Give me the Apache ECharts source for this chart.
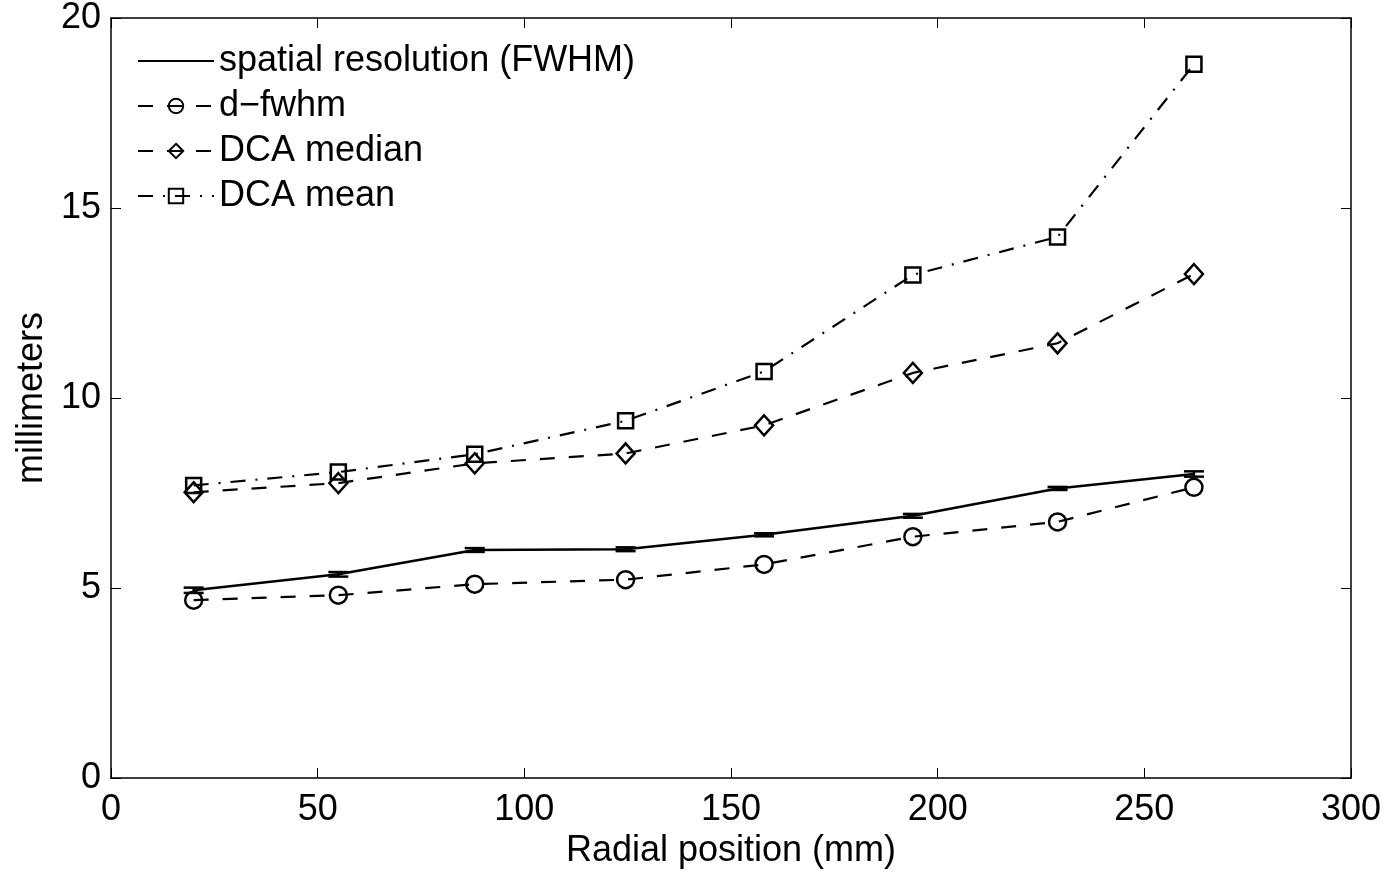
<!DOCTYPE html>
<html>
<head>
<meta charset="utf-8">
<script src="https://cdn.jsdelivr.net/npm/echarts@6/dist/echarts.min.js"></script>
<style>
  html, body { margin: 0; padding: 0; background: #fff; }
  #chart { width: 1389px; height: 878px; }
</style>
</head>
<body>
<div id="chart"></div>
<script>
// radial positions (mm)
const radialPos = [20, 55, 88, 124.5, 158, 194, 229, 262];
// series values (mm)
const fwhm = [4.94, 5.36, 6.0, 6.02, 6.4, 6.9, 7.62, 8.0];
const fwhmErr = [0.07, 0.06, 0.05, 0.05, 0.04, 0.05, 0.04, 0.07];
const dFwhm = [4.68, 4.81, 5.1, 5.22, 5.62, 6.35, 6.74, 7.65];
const dcaMedian = [7.52, 7.76, 8.28, 8.54, 9.28, 10.66, 11.44, 13.26];
const dcaMean = [7.7, 8.05, 8.52, 9.4, 10.7, 13.24, 14.24, 18.78];

const xTicks = [0, 50, 100, 150, 200, 250, 300];
const yTicks = [0, 5, 10, 15, 20];

const FONT = '"Liberation Sans", Arial, Helvetica, sans-serif';
const hollow = { color: 'rgba(0,0,0,0)', borderColor: '#000', borderWidth: 2.5 };

function pairs(ys) {
  return radialPos.map((x, i) => [x, ys[i]]);
}

const chart = echarts.init(document.getElementById('chart'));

const axisCommon = {
  type: 'value',
  axisLine: { show: true, onZero: false, lineStyle: { color: '#000', width: 1.5 } },
  axisTick: { show: true, inside: true, length: 10, lineStyle: { color: '#000', width: 1 } },
  splitLine: { show: false }
};

const option = {
  animation: false,
  backgroundColor: '#fff',
  grid: { left: 111, top: 17, right: 38, bottom: 100, containLabel: false },
  legend: {
    left: 132,
    top: 38,
    orient: 'vertical',
    itemWidth: 76,
    itemHeight: 18,
    itemGap: 9,
    textStyle: { fontFamily: FONT, fontSize: 36, color: '#000' },
    data: [
      { name: 'spatial resolution (FWHM)', itemStyle: { opacity: 0 } },
      'd\u2212fwhm', 'DCA median', 'DCA mean'
    ]
  },
  xAxis: [
    Object.assign({}, axisCommon, {
      min: 0, max: 300, interval: 50, position: 'bottom',
      name: 'Radial position (mm)', nameLocation: 'middle', nameGap: 52,
      nameTextStyle: { fontFamily: FONT, fontSize: 36, color: '#000' },
      axisLabel: { fontFamily: FONT, fontSize: 36, color: '#000', margin: 14,
        formatter: v => xTicks.includes(v) ? String(v) : '' }
    }),
    Object.assign({}, axisCommon, {
      min: 0, max: 300, interval: 50, position: 'top', axisLabel: { show: false }
    })
  ],
  yAxis: [
    Object.assign({}, axisCommon, {
      min: 0, max: 20, interval: 5, position: 'left',
      name: 'millimeters', nameLocation: 'middle', nameGap: 59,
      nameTextStyle: { fontFamily: FONT, fontSize: 36, color: '#000' },
      axisLabel: { fontFamily: FONT, fontSize: 36, color: '#000', margin: 10,
        formatter: v => yTicks.includes(v) ? String(v) : '' }
    }),
    Object.assign({}, axisCommon, {
      min: 0, max: 20, interval: 5, position: 'right', axisLabel: { show: false }
    })
  ],
  series: [
    {
      name: 'spatial resolution (FWHM)',
      type: 'line',
      data: pairs(fwhm),
      symbol: 'none',
      lineStyle: { color: '#000', width: 2.5, type: 'solid' },
      itemStyle: { color: '#000' },
      z: 3
    },
    {
      name: 'fwhm error',
      type: 'custom',
      data: radialPos.map((x, i) => [x, fwhm[i] - fwhmErr[i], fwhm[i] + fwhmErr[i]]),
      renderItem: function (params, api) {
        const lo = api.coord([api.value(0), api.value(1)]);
        const hi = api.coord([api.value(0), api.value(2)]);
        const hw = 10;
        const st = { stroke: '#000', lineWidth: 2.5 };
        return {
          type: 'group',
          children: [
            { type: 'line', shape: { x1: lo[0], y1: lo[1], x2: hi[0], y2: hi[1] }, style: st },
            { type: 'line', shape: { x1: lo[0] - hw, y1: lo[1], x2: lo[0] + hw, y2: lo[1] }, style: st },
            { type: 'line', shape: { x1: hi[0] - hw, y1: hi[1], x2: hi[0] + hw, y2: hi[1] }, style: st }
          ]
        };
      },
      z: 4
    },
    {
      name: 'd\u2212fwhm',
      type: 'line',
      data: pairs(dFwhm),
      symbol: 'circle',
      symbolSize: 17,
      showAllSymbol: true,
      itemStyle: hollow,
      lineStyle: { color: '#000', width: 2.2, type: [15, 14] },
      z: 3
    },
    {
      name: 'DCA median',
      type: 'line',
      data: pairs(dcaMedian),
      symbol: 'path://M0,-10L9,0L0,10L-9,0Z',
      symbolSize: [18, 20],
      showAllSymbol: true,
      itemStyle: hollow,
      lineStyle: { color: '#000', width: 2.2, type: [15, 14] },
      z: 3
    },
    {
      name: 'DCA mean',
      type: 'line',
      data: pairs(dcaMean),
      symbol: 'rect',
      symbolSize: 15,
      showAllSymbol: true,
      itemStyle: hollow,
      lineStyle: { color: '#000', width: 2.2, type: [15, 10, 2, 10] },
      z: 3
    }
  ]
};

chart.setOption(option);
</script>
</body>
</html>
